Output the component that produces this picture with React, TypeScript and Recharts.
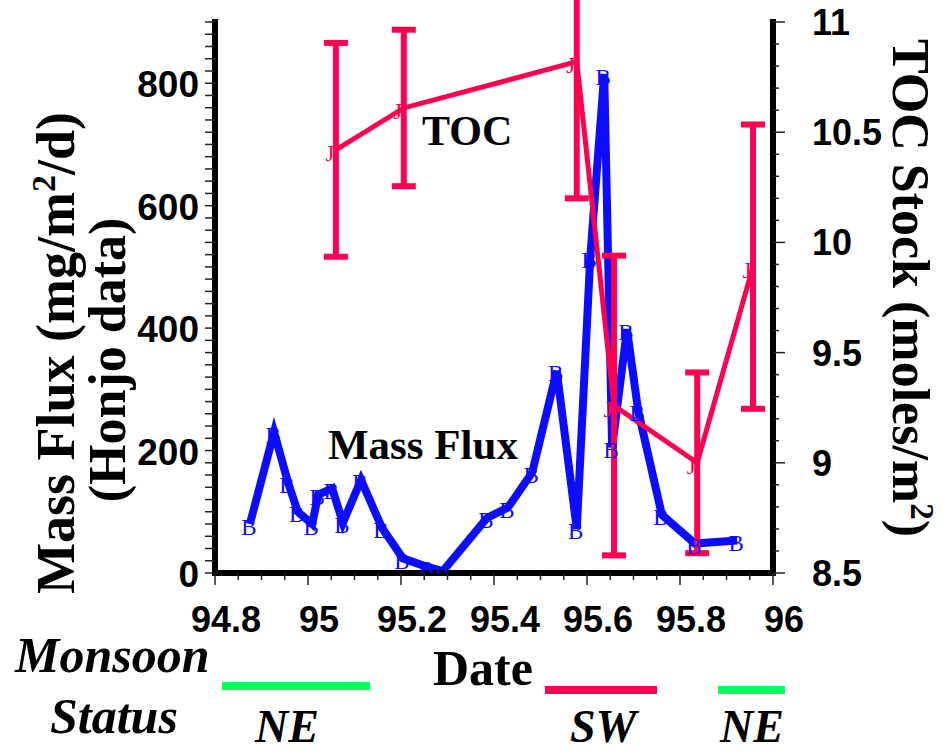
import React from "react";
import { LineChart, Line, XAxis, YAxis, ErrorBar } from "recharts";

// Honjo sediment trap mass flux (blue "B" series)
const FLUX_DATE = [
  94.875, 94.927, 94.957, 94.978, 95.009, 95.022, 95.052, 95.075, 95.114, 95.159,
  95.204, 95.256, 95.29, 95.385, 95.43, 95.482, 95.535, 95.578, 95.607, 95.637,
  95.654, 95.686, 95.71, 95.761, 95.832, 95.923,
];
const FLUX = [
  80, 230, 148, 100, 80, 128, 138, 82, 152, 74,
  24, 10, 3, 90, 107, 164, 330, 72, 516, 815,
  205, 398, 265, 95, 48, 53,
];

// TOC stock (pink "J" series) with error half-widths
const TOC_DATE = [95.06, 95.206, 95.578, 95.658, 95.837, 95.957];
const TOC = [10.42, 10.61, 10.82, 9.26, 9.0, 9.89];
const TOC_ERR = [0.485, 0.355, 0.62, 0.68, 0.41, 0.645];

const X_TICKS = [
  94.8, 94.85, 94.9, 94.95, 95, 95.05, 95.1, 95.15, 95.2, 95.25, 95.3, 95.35, 95.4,
  95.45, 95.5, 95.55, 95.6, 95.65, 95.7, 95.75, 95.8, 95.85, 95.9, 95.95, 96,
];
const X_LABELS = [94.8, 95, 95.2, 95.4, 95.6, 95.8, 96];
const LEFT_TICKS = Array.from({ length: 46 }, (_, i) => i * 20);
const LEFT_LABELS = [0, 200, 400, 600, 800];
const RIGHT_TICKS = [
  8.5, 8.6, 8.7, 8.8, 8.9, 9, 9.1, 9.2, 9.3, 9.4, 9.5, 9.6, 9.7, 9.8, 9.9, 10,
  10.1, 10.2, 10.3, 10.4, 10.5, 10.6, 10.7, 10.8, 10.9, 11,
];
const RIGHT_LABELS = [8.5, 9, 9.5, 10, 10.5, 11];

const fluxData = FLUX_DATE.map((d, i) => ({ date: d, flux: FLUX[i] }));
const tocData = TOC_DATE.map((d, i) => ({ date: d, toc: TOC[i], err: TOC_ERR[i] }));

const SERIF = '"Liberation Serif", "Times New Roman", serif';
const SANS = '"Liberation Sans", Arial, sans-serif';
const BLUE = "#0c0cff";
const PINK = "#ff0050";
const GREEN = "#00ff5a";

const has = (list: number[], v: number) => list.some((l) => Math.abs(l - v) < 1e-6);

const BottomTick = (props: any) => {
  const { x, y, payload } = props;
  const major = has(X_LABELS, payload.value);
  return (
    <g>
      <line x1={x} y1={y} x2={x} y2={y + (major ? 12 : 7)} stroke="#222" strokeWidth={1.5} />
      {major && (
        <text x={x + 11} y={y + 59} textAnchor="middle" fontFamily={SANS} fontWeight={700} fontSize={36} fill="#000">
          {String(payload.value)}
        </text>
      )}
    </g>
  );
};

const LeftTick = (props: any) => {
  const { x, y, payload } = props;
  const major = has(LEFT_LABELS, payload.value);
  return (
    <g>
      <line x1={x - 10} y1={y} x2={x} y2={y} stroke="#222" strokeWidth={1.5} />
      {major && (
        <text x={x - 16} y={y + 14} textAnchor="end" fontFamily={SANS} fontWeight={700} fontSize={37} fill="#000">
          {String(payload.value)}
        </text>
      )}
    </g>
  );
};

const RightTick = (props: any) => {
  const { x, y, payload } = props;
  const major = has(RIGHT_LABELS, payload.value);
  return (
    <g>
      <line x1={x} y1={y} x2={x + (major ? 12 : 6)} y2={y} stroke="#222" strokeWidth={1.5} />
      {major && (
        <text x={x + 39} y={y + 13} textAnchor="start" fontFamily={SANS} fontWeight={700} fontSize={36} fill="#000">
          {String(payload.value)}
        </text>
      )}
    </g>
  );
};

const letterDot = (ch: string, color: string, dx: number, dy: number) => (p: any) => (
  <text
    key={`${ch}-${p.index}`}
    x={p.cx + dx}
    y={p.cy + dy}
    textAnchor="middle"
    dominantBaseline="central"
    fontFamily={SERIF}
    fontSize={23}
    fill={color}
  >
    {ch}
  </text>
);

const frame = { stroke: "#000", strokeWidth: 6, strokeLinecap: "square" as const };

export default function App() {
  return (
    <div style={{ position: "absolute", left: 0, top: 0, width: 943, height: 754, background: "#fff" }}>
      <style>{`.toc-line, .toc-line * { clip-path: none !important; }`}</style>
      <LineChart width={943} height={754} margin={{ top: 22, right: 110, bottom: 151, left: 155 }}>
        <XAxis
          dataKey="date"
          type="number"
          domain={[94.8, 96]}
          allowDataOverflow
          ticks={X_TICKS}
          interval={0}
          tickSize={0}
          tickMargin={0}
          height={30}
          axisLine={frame}
          tickLine={false}
          tick={<BottomTick />}
        />
        <XAxis
          xAxisId="top"
          orientation="top"
          type="number"
          domain={[94.8, 96]}
          height={0}
          tick={false}
          tickLine={false}
          axisLine={frame}
        />
        <YAxis
          yAxisId="left"
          domain={[0, 900]}
          allowDataOverflow
          ticks={LEFT_TICKS}
          interval={0}
          width={60}
          tickSize={0}
          tickMargin={0}
          axisLine={frame}
          tickLine={false}
          tick={<LeftTick />}
        />
        <YAxis
          yAxisId="right"
          orientation="right"
          domain={[8.5, 11]}
          allowDataOverflow
          ticks={RIGHT_TICKS}
          interval={0}
          width={60}
          tickSize={0}
          tickMargin={0}
          axisLine={frame}
          tickLine={false}
          tick={<RightTick />}
        />
        <Line
          yAxisId="left"
          data={fluxData}
          dataKey="flux"
          type="linear"
          stroke={BLUE}
          strokeWidth={8}
          dot={letterDot("B", BLUE, -1, 3)}
          activeDot={false}
          isAnimationActive={false}
        />
        <Line
          yAxisId="right"
          className="toc-line"
          data={tocData}
          dataKey="toc"
          type="linear"
          stroke={PINK}
          strokeWidth={5}
          dot={letterDot("J", PINK, -6, 4)}
          activeDot={false}
          isAnimationActive={false}
        >
          <ErrorBar dataKey="err" direction="y" width={12} stroke={PINK} strokeWidth={6} />
        </Line>
      </LineChart>

      <svg width={943} height={754} style={{ position: "absolute", left: 0, top: 0, pointerEvents: "none" }}>
        <text x={422} y={145} fontFamily={SERIF} fontWeight={700} fontSize={42} fill="#000">TOC</text>
        <text x={328} y={459} fontFamily={SERIF} fontWeight={700} fontSize={43} fill="#000">Mass Flux</text>

        <text transform="translate(74,353) rotate(-90)" textAnchor="middle" fontFamily={SERIF} fontWeight={700} fontSize={54} fill="#000">
          Mass Flux (mg/m<tspan fontSize={34} dy={-19}>2</tspan><tspan dy={19}>/d)</tspan>
        </text>
        <text transform="translate(125,360) rotate(-90)" textAnchor="middle" fontFamily={SERIF} fontWeight={700} fontSize={52} fill="#000">
          (Honjo data)
        </text>
        <text transform="translate(893,288) rotate(90)" textAnchor="middle" fontFamily={SERIF} fontWeight={700} fontSize={52} fill="#000">
          TOC Stock (moles/m<tspan fontSize={33} dy={-18}>2</tspan><tspan dy={18}>)</tspan>
        </text>

        <text x={483} y={685} textAnchor="middle" fontFamily={SERIF} fontWeight={700} fontSize={50} fill="#000">Date</text>
        <text x={15} y={672} fontFamily={SERIF} fontWeight={700} fontStyle="italic" fontSize={50} fill="#000">Monsoon</text>
        <text x={50} y={733} fontFamily={SERIF} fontWeight={700} fontStyle="italic" fontSize={50} fill="#000">Status</text>

        <rect x={222} y={682} width={148} height={8} fill={GREEN} />
        <rect x={545} y={686} width={112} height={8} fill={PINK} />
        <rect x={718} y={686} width={67} height={8} fill={GREEN} />

        <text x={255} y={742} fontFamily={SERIF} fontWeight={700} fontStyle="italic" fontSize={46} fill="#000">NE</text>
        <text x={570} y={742} fontFamily={SERIF} fontWeight={700} fontStyle="italic" fontSize={46} fill="#000">SW</text>
        <text x={720} y={742} fontFamily={SERIF} fontWeight={700} fontStyle="italic" fontSize={46} fill="#000">NE</text>
      </svg>
    </div>
  );
}
